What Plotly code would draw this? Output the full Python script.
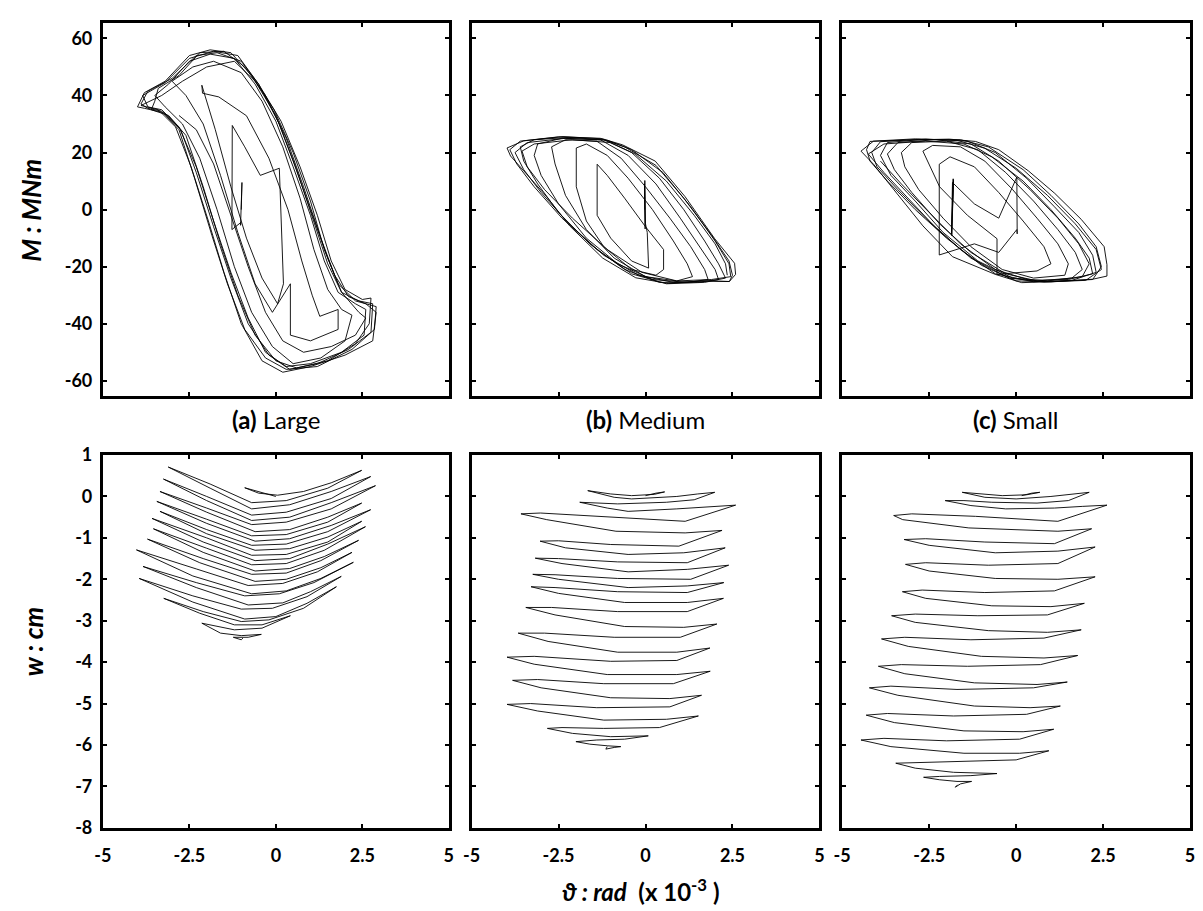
import plotly.graph_objects as go

# ---------------------------------------------------------------------------
# Moment (MNm) vs rotation (x 1e-3 rad) loops, one list of loops per foundation
# ---------------------------------------------------------------------------
large_moment_loops = [
    [(-1.00, 0.0), (-0.98, 9.5), (-1.02, -5.5), (-0.99, 9.0), (-1.01, -4.5)],
    [(-1.27, -7.0), (-1.26, 29.5), (-0.90, 22.0), (-0.45, 12.0), (0.10, 14.5), (0.22, -26.0),
     (0.05, -33.0), (-0.40, -24.0), (-0.85, -10.0), (-1.30, 8.0), (-1.75, 28.0), (-2.14, 43.6)],
    [(-2.12, 40.8), (-1.65, 39.5), (-0.85, 32.9), (-0.20, 18.0), (0.35, 0.0), (0.75, -18.0),
     (1.05, -30.0), (1.27, -37.4), (1.80, -35.0), (1.80, -42.0), (1.00, -46.0), (0.42, -44.0),
     (0.42, -26.0), (-0.10, -36.0), (-0.60, -26.0), (-1.10, -8.0), (-1.60, 12.0), (-2.10, 30.0),
     (-2.60, 40.0), (-3.00, 45.0)],
    [(-2.40, 50.0), (-1.80, 52.0), (-1.00, 48.0), (-0.40, 38.0), (0.20, 22.0), (0.70, 4.0),
     (1.10, -14.0), (1.50, -28.0), (1.90, -35.0), (2.20, -37.0), (2.00, -46.0), (1.30, -52.0),
     (0.50, -54.0), (-0.10, -48.0), (-0.70, -36.0), (-1.20, -20.0), (-1.70, 0.0), (-2.20, 18.0),
     (-2.70, 30.0), (-3.20, 36.0), (-3.50, 40.0)],
    [(-3.10, 44.0), (-2.50, 52.0), (-1.90, 54.5), (-1.20, 53.0), (-0.60, 44.0), (0.00, 31.0),
     (0.50, 15.0), (1.00, -2.0), (1.40, -18.0), (1.80, -29.0), (2.30, -33.0), (2.60, -35.0),
     (2.55, -44.0), (1.90, -50.0), (1.00, -54.0), (0.30, -55.0), (-0.30, -50.0), (-0.80, -38.0),
     (-1.30, -22.0), (-1.80, -4.0), (-2.30, 15.0), (-2.80, 29.0), (-3.30, 35.0), (-3.70, 36.0)],
    [(-3.85, 40.0), (-3.20, 44.5), (-2.50, 53.0), (-1.80, 55.5), (-1.10, 54.0), (-0.50, 44.0),
     (0.10, 30.0), (0.60, 14.0), (1.10, -4.0), (1.50, -19.0), (1.90, -29.0), (2.40, -32.0),
     (2.80, -33.0), (2.75, -43.0), (2.10, -49.0), (1.20, -54.0), (0.40, -56.0), (-0.20, -51.0),
     (-0.80, -40.0), (-1.30, -24.0), (-1.80, -6.0), (-2.30, 13.0), (-2.75, 28.0), (-3.25, 34.0),
     (-3.80, 35.5)],
    [(-4.00, 36.0), (-3.80, 41.0), (-3.20, 45.0), (-2.50, 54.0), (-1.90, 56.0), (-1.30, 55.0),
     (-0.70, 47.0), (-0.05, 35.0), (0.50, 20.0), (1.00, 3.0), (1.40, -14.0), (1.80, -26.0),
     (2.30, -32.0), (2.90, -34.0), (2.85, -42.0), (2.20, -49.0), (1.20, -55.0), (0.30, -56.0),
     (-0.30, -52.0), (-0.90, -42.0), (-1.40, -26.0), (-1.85, -9.0), (-2.35, 11.0), (-2.80, 28.0),
     (-3.30, 34.5), (-3.70, 35.5)],
    [(-3.90, 37.0), (-3.70, 41.5), (-3.00, 46.0), (-2.30, 54.0), (-1.70, 55.0), (-1.00, 52.0),
     (-0.50, 44.0), (0.15, 31.0), (0.70, 15.0), (1.20, -2.0), (1.60, -18.0), (2.00, -28.0),
     (2.50, -31.5), (2.75, -31.0), (2.70, -40.0), (2.30, -47.0), (1.50, -53.0), (0.60, -55.5),
     (0.00, -53.0), (-0.60, -44.0), (-1.10, -30.0), (-1.60, -12.0), (-2.10, 8.0), (-2.60, 26.0),
     (-3.10, 33.0), (-3.60, 35.0)],
    [(-3.50, 38.0), (-3.40, 42.5), (-2.80, 47.0), (-2.20, 55.0), (-1.50, 55.5), (-0.90, 50.0),
     (-0.30, 40.0), (0.30, 25.0), (0.80, 8.0), (1.30, -10.0), (1.70, -23.0), (2.10, -30.5),
     (2.60, -33.0), (2.90, -36.0), (2.80, -46.0), (2.00, -51.0), (1.00, -55.0), (0.20, -57.0),
     (-0.40, -53.0), (-1.00, -40.0), (-1.50, -22.0), (-1.95, -4.0), (-2.45, 15.0), (-2.90, 29.0),
     (-3.40, 35.0), (-3.90, 36.5)],
    [(-3.30, 40.0), (-2.70, 45.0), (-2.00, 50.0), (-1.20, 52.0), (-0.60, 45.0), (0.00, 33.0),
     (0.50, 17.0), (1.00, 0.0), (1.50, -17.0), (1.90, -29.0), (2.40, -36.0), (2.60, -38.0),
     (2.30, -44.0), (1.60, -48.0), (0.80, -50.0), (0.20, -46.0), (-0.30, -36.0), (-0.80, -20.0),
     (-1.30, -2.0), (-1.80, 16.0), (-2.30, 28.0), (-2.80, 33.0)],
]

medium_moment_loops = [
    [(-0.02, 0.0), (-0.02, 10.2), (-0.01, -6.8), (-0.03, 9.0), (0.00, -5.0)],
    [(0.05, -8.0), (0.09, -20.5), (-0.40, -18.0), (-1.00, -10.0), (-1.39, -2.0), (-1.39, 15.9),
     (-1.10, 12.0), (-0.60, 4.0), (0.00, -6.0), (0.52, -14.0), (0.52, -21.0)],
    [(0.30, -23.0), (-0.40, -21.0), (-1.20, -13.0), (-1.70, -4.0), (-1.99, 8.0), (-1.99, 21.6),
     (-1.70, 23.0), (-1.10, 19.0), (-0.50, 11.0), (0.20, 0.0), (0.80, -11.0), (1.20, -19.0),
     (1.35, -23.5)],
    [(0.90, -25.0), (0.00, -23.5), (-0.90, -17.0), (-1.70, -7.0), (-2.30, 5.0), (-2.60, 16.0),
     (-2.70, 22.0), (-2.30, 24.5), (-1.40, 24.0), (-0.70, 18.0), (0.00, 8.0), (0.70, -3.0),
     (1.30, -13.0), (1.70, -21.0), (1.80, -24.5)],
    [(1.20, -25.5), (0.20, -24.5), (-0.80, -19.0), (-1.70, -10.0), (-2.50, 2.0), (-3.00, 12.0),
     (-3.20, 19.0), (-3.10, 23.0), (-2.40, 25.0), (-1.30, 24.5), (-0.50, 19.0), (0.30, 9.0),
     (1.00, -3.0), (1.60, -14.0), (2.00, -21.0), (2.10, -24.5)],
    [(1.50, -25.5), (0.40, -25.5), (-0.60, -21.0), (-1.60, -12.0), (-2.50, -1.0), (-3.10, 9.0),
     (-3.50, 17.0), (-3.60, 22.0), (-3.20, 24.5), (-2.20, 25.3), (-1.20, 24.5), (-0.40, 20.0),
     (0.40, 11.0), (1.10, 0.0), (1.70, -11.0), (2.10, -19.0), (2.30, -24.0)],
    [(1.70, -25.5), (0.60, -26.0), (-0.40, -22.5), (-1.40, -14.0), (-2.40, -3.0), (-3.20, 8.0),
     (-3.70, 16.0), (-3.90, 21.0), (-3.60, 24.0), (-2.50, 25.5), (-1.30, 25.0), (-0.60, 22.0),
     (0.30, 15.5), (1.10, 4.0), (1.90, -9.0), (2.40, -18.0), (2.50, -23.0)],
    [(2.41, -25.2), (1.61, -25.0), (0.66, -25.9), (-0.28, -23.9), (-1.23, -17.0), (-2.18, -5.7),
     (-2.84, 4.5), (-3.50, 13.6), (-3.88, 18.8), (-3.98, 21.6), (-3.50, 24.1), (-2.37, 25.6),
     (-1.23, 24.8), (-0.66, 22.7), (0.28, 17.0), (1.14, 4.5), (1.99, -10.2), (2.56, -18.8),
     (2.59, -22.7), (2.41, -25.2)],
    [(1.80, -25.0), (0.80, -25.5), (-0.20, -23.0), (-1.20, -16.0), (-2.20, -5.0), (-3.00, 6.0),
     (-3.50, 14.0), (-3.75, 20.0), (-3.40, 23.5), (-2.30, 25.0), (-1.10, 24.3), (-0.40, 21.0),
     (0.50, 13.0), (1.30, 1.0), (2.00, -11.0), (2.40, -19.0), (2.45, -23.5)],
    [(1.90, -24.5), (0.90, -25.0), (-0.10, -22.0), (-1.10, -14.0), (-2.10, -3.0), (-2.90, 7.0),
     (-3.40, 15.0), (-3.55, 20.5), (-3.20, 23.0), (-2.10, 24.5), (-1.00, 23.5), (-0.30, 19.5),
     (0.60, 10.0), (1.40, -2.0), (2.00, -12.0), (2.30, -19.0), (2.35, -23.0)],
]

small_moment_loops = [
    [(-1.83, 0.0), (-1.81, 10.8), (-1.85, -9.1), (-1.80, 10.5), (-1.86, -8.5), (-1.83, 9.5),
     (-1.20, 2.0), (-0.50, -3.0), (0.02, 11.4), (0.03, -8.5), (0.01, 11.0), (0.02, -7.0)],
    [(-0.50, -15.0), (-1.20, -12.0), (-2.21, -15.9), (-2.21, 15.9), (-1.90, 18.5), (-1.20, 15.0),
     (-0.50, 6.0), (0.20, -4.0), (0.80, -13.0), (1.00, -19.0), (0.60, -21.5), (-0.55, -22.7),
     (-0.55, -10.2), (-1.40, -2.0), (-2.20, 8.0), (-2.68, 20.5)],
    [(-2.40, 22.5), (-1.60, 22.0), (-0.90, 17.0), (-0.10, 7.0), (0.60, -3.0), (1.20, -12.0),
     (1.50, -19.0), (1.40, -23.0), (0.50, -24.0), (-0.40, -21.0), (-1.30, -13.0), (-2.10, -3.0),
     (-2.80, 7.0), (-3.20, 15.0), (-3.30, 20.0)],
    [(-3.00, 23.5), (-2.00, 24.0), (-1.10, 21.0), (-0.30, 13.0), (0.50, 3.0), (1.20, -7.0),
     (1.70, -15.0), (1.90, -21.0), (1.60, -24.0), (0.60, -25.0), (-0.30, -22.5), (-1.30, -15.0),
     (-2.20, -5.0), (-3.00, 6.0), (-3.50, 14.0), (-3.70, 19.5)],
    [(-3.40, 23.5), (-2.30, 24.5), (-1.30, 23.0), (-0.50, 17.0), (0.40, 7.0), (1.20, -3.0),
     (1.80, -12.0), (2.10, -19.0), (1.90, -23.5), (0.90, -25.0), (-0.10, -24.0), (-1.10, -18.0),
     (-2.10, -8.0), (-2.90, 3.0), (-3.60, 12.0), (-3.90, 19.0)],
    [(-3.70, 23.5), (-2.60, 24.7), (-1.40, 24.0), (-0.60, 20.0), (0.30, 11.0), (1.10, 1.0),
     (1.80, -8.0), (2.20, -16.0), (2.30, -22.0), (1.60, -24.8), (0.50, -25.3), (-0.60, -22.5),
     (-1.60, -14.0), (-2.60, -3.0), (-3.40, 7.0), (-4.00, 15.0), (-4.15, 20.0)],
    [(-3.90, 23.8), (-2.80, 24.6), (-1.60, 24.5), (-0.80, 22.0), (0.20, 14.0), (1.00, 5.0),
     (1.80, -5.0), (2.30, -13.0), (2.45, -20.0), (2.20, -24.5), (1.00, -25.3), (0.00, -25.0),
     (-1.00, -19.5), (-2.00, -10.0), (-2.90, 0.0), (-3.70, 10.0), (-4.20, 17.0), (-4.30, 21.0)],
    [(-4.20, 23.9), (-3.16, 24.4), (-1.92, 24.7), (-1.17, 23.9), (-0.50, 21.0), (0.35, 13.6),
     (1.11, 5.7), (1.87, -3.4), (2.53, -13.0), (2.61, -19.3), (2.61, -23.3), (2.20, -24.4),
     (1.11, -25.2), (0.16, -25.6), (-0.60, -22.7), (-1.83, -16.5), (-2.68, -5.7), (-3.44, 5.7),
     (-4.10, 15.9), (-4.46, 20.5)],
    [(-4.10, 24.0), (-2.90, 24.8), (-1.70, 24.3), (-0.90, 21.5), (0.00, 14.5), (0.90, 5.0),
     (1.70, -5.0), (2.30, -14.0), (2.45, -21.0), (2.00, -24.8), (0.80, -25.4), (-0.20, -24.0),
     (-1.30, -17.0), (-2.30, -6.5), (-3.10, 4.0), (-3.80, 13.0), (-4.25, 19.5)],
    [(-3.80, 23.0), (-2.60, 24.0), (-1.50, 23.0), (-0.70, 18.5), (0.20, 10.0), (1.00, 0.0),
     (1.70, -10.0), (2.10, -17.0), (2.20, -22.5), (1.50, -24.5), (0.40, -24.8), (-0.60, -21.0),
     (-1.60, -12.0), (-2.50, -1.0), (-3.30, 9.0), (-3.90, 17.0)],
]

# ---------------------------------------------------------------------------
# Settlement w (cm) vs rotation paths (x 1e-3 rad)
# ---------------------------------------------------------------------------
large_settlement = [
    (0.00, 0.00), (-0.55, 0.12), (-0.90, 0.21), (-0.50, 0.08), (0.05, 0.03), (0.80, 0.12),
    (1.60, 0.33), (2.48, 0.63),
    (1.50, 0.20), (0.30, -0.10), (-0.70, -0.15), (-1.90, 0.30), (-3.11, 0.71),
    (-1.90, 0.20), (-0.70, -0.30), (0.40, -0.20), (1.60, 0.12), (2.74, 0.48),
    (1.60, -0.05), (0.30, -0.38), (-0.70, -0.45), (-2.00, 0.00), (-3.25, 0.42),
    (-2.00, -0.10), (-0.70, -0.58), (0.40, -0.50), (1.60, -0.15), (2.88, 0.26),
    (1.60, -0.30), (0.30, -0.62), (-0.70, -0.68), (-2.00, -0.28), (-3.35, 0.12),
    (-2.00, -0.38), (-0.60, -0.85), (0.40, -0.80), (1.50, -0.50), (2.48, -0.16),
    (1.50, -0.62), (0.30, -0.92), (-0.70, -0.95), (-2.00, -0.55), (-3.44, -0.12),
    (-2.00, -0.65), (-0.60, -1.08), (0.40, -1.02), (1.60, -0.70), (2.74, -0.32),
    (1.50, -0.85), (0.30, -1.15), (-0.70, -1.18), (-2.00, -0.80), (-3.35, -0.36),
    (-2.00, -0.90), (-0.60, -1.30), (0.40, -1.26), (1.50, -0.98), (2.48, -0.60),
    (1.50, -1.10), (0.30, -1.40), (-0.70, -1.42), (-2.00, -1.00), (-3.58, -0.53),
    (-2.10, -1.10), (-0.60, -1.55), (0.40, -1.50), (1.50, -1.15), (2.59, -0.73),
    (1.40, -1.30), (0.30, -1.62), (-0.70, -1.65), (-2.00, -1.25), (-3.54, -0.78),
    (-2.10, -1.35), (-0.60, -1.80), (0.40, -1.74), (1.40, -1.45), (2.39, -1.06),
    (1.30, -1.55), (0.30, -1.85), (-0.70, -1.88), (-2.10, -1.50), (-3.71, -1.03),
    (-2.20, -1.60), (-0.60, -2.05), (0.30, -2.00), (1.30, -1.72), (2.20, -1.35),
    (1.20, -1.82), (0.20, -2.10), (-0.80, -2.15), (-2.30, -1.75), (-4.03, -1.29),
    (-2.40, -1.92), (-0.70, -2.35), (0.30, -2.28), (1.30, -1.98), (2.24, -1.59),
    (1.10, -2.08), (0.10, -2.35), (-0.90, -2.40), (-2.30, -2.08), (-3.84, -1.69),
    (-2.30, -2.20), (-0.80, -2.62), (0.20, -2.57), (1.00, -2.30), (1.89, -1.93),
    (0.90, -2.42), (-0.10, -2.70), (-1.00, -2.72), (-2.40, -2.40), (-3.95, -1.98),
    (-2.40, -2.55), (-0.90, -2.96), (0.00, -2.90), (0.90, -2.58), (1.75, -2.18),
    (0.80, -2.70), (-0.20, -2.98), (-1.00, -3.02), (-2.10, -2.78), (-3.24, -2.46),
    (-2.20, -2.82), (-1.20, -3.10), (-0.40, -3.10), (0.42, -2.88),
    (-0.40, -3.18), (-1.20, -3.22), (-2.14, -3.06),
    (-1.60, -3.30), (-1.00, -3.36), (-0.42, -3.33),
    (-0.80, -3.40), (-1.23, -3.40), (-1.00, -3.46), (-0.95, -3.42),
]

medium_settlement = [
    (0.00, 0.02), (0.30, 0.08), (0.55, 0.11), (0.25, 0.05), (-0.40, 0.02), (-1.00, 0.06),
    (-1.66, 0.14),
    (-0.90, -0.02), (-0.40, -0.06), (0.90, 0.00), (1.50, 0.06), (1.99, 0.10),
    (1.40, -0.08), (0.60, -0.14), (-0.80, -0.18), (-1.40, -0.15), (-1.89, -0.14),
    (-1.10, -0.28), (-0.50, -0.36), (0.90, -0.30), (1.70, -0.26), (2.59, -0.21),
    (1.14, -0.60), (-1.23, -0.49), (-3.02, -0.40), (-3.58, -0.42),
    (-2.84, -0.56), (-0.85, -0.84), (1.14, -0.88), (2.20, -0.82),
    (0.96, -1.20), (-1.00, -1.16), (-2.50, -1.07), (-3.03, -1.08),
    (-2.30, -1.24), (-0.50, -1.40), (1.10, -1.36), (2.29, -1.24),
    (1.20, -1.60), (-0.80, -1.58), (-2.50, -1.50), (-3.17, -1.49),
    (-2.40, -1.62), (-0.50, -1.82), (1.20, -1.76), (2.39, -1.66),
    (1.30, -2.00), (-0.80, -1.98), (-2.60, -1.89), (-3.24, -1.88),
    (-2.50, -2.00), (-0.50, -2.20), (1.20, -2.16), (2.25, -2.08),
    (1.20, -2.32), (-0.80, -2.30), (-2.60, -2.20), (-3.29, -2.18),
    (-2.50, -2.34), (-0.60, -2.56), (1.20, -2.56), (2.24, -2.46),
    (1.20, -2.78), (-0.80, -2.78), (-2.70, -2.68), (-3.44, -2.68),
    (-2.60, -2.86), (-0.60, -3.14), (1.10, -3.16), (2.05, -3.08),
    (1.00, -3.40), (-0.90, -3.40), (-2.90, -3.30), (-3.66, -3.30),
    (-2.80, -3.50), (-0.80, -3.76), (0.90, -3.76), (1.85, -3.66),
    (0.90, -3.96), (-1.00, -3.98), (-3.20, -3.86), (-3.98, -3.88),
    (-3.20, -4.05), (-1.10, -4.30), (0.90, -4.30), (1.86, -4.22),
    (0.80, -4.52), (-1.20, -4.52), (-3.10, -4.42), (-3.82, -4.44),
    (-3.00, -4.62), (-1.00, -4.86), (0.70, -4.88), (1.61, -4.80),
    (0.70, -5.08), (-1.40, -5.10), (-3.30, -5.00), (-3.98, -5.02),
    (-3.10, -5.18), (-1.20, -5.40), (0.60, -5.38), (1.52, -5.30),
    (0.40, -5.58), (-1.20, -5.60), (-2.40, -5.58), (-2.82, -5.60),
    (-2.10, -5.72), (-1.00, -5.80), (0.08, -5.78),
    (-0.60, -5.86), (-1.40, -5.88), (-2.00, -5.92),
    (-1.60, -5.98), (-1.10, -6.02), (-0.71, -6.04),
    (-0.90, -6.06), (-1.14, -6.10), (-1.10, -6.04),
]

small_settlement = [
    (0.16, 0.02), (0.45, 0.08), (0.68, 0.10), (0.30, 0.04), (-0.40, 0.02), (-1.00, 0.06),
    (-1.55, 0.10),
    (-0.90, -0.02), (0.00, -0.06), (1.00, 0.00), (1.60, 0.06), (2.10, 0.10),
    (1.50, -0.10), (0.60, -0.16), (-0.70, -0.14), (-1.50, -0.10), (-2.04, -0.10),
    (-1.30, -0.22), (-0.30, -0.30), (1.10, -0.28), (1.90, -0.24), (2.61, -0.21),
    (1.20, -0.60), (-1.17, -0.48), (-3.00, -0.42), (-3.52, -0.46),
    (-3.26, -0.56), (-1.36, -0.76), (1.20, -0.84), (2.17, -0.78),
    (1.10, -1.14), (-0.90, -1.10), (-2.60, -1.02), (-3.22, -1.04),
    (-2.50, -1.18), (-0.60, -1.36), (1.20, -1.32), (2.27, -1.22),
    (1.20, -1.62), (-0.80, -1.66), (-2.60, -1.60), (-3.18, -1.64),
    (-2.50, -1.80), (-0.60, -1.98), (1.20, -2.00), (2.27, -1.94),
    (1.10, -2.28), (-0.90, -2.32), (-2.70, -2.26), (-3.27, -2.30),
    (-2.60, -2.46), (-0.70, -2.64), (1.00, -2.66), (1.96, -2.58),
    (0.90, -2.86), (-1.10, -2.88), (-2.90, -2.84), (-3.58, -2.88),
    (-2.90, -3.04), (-0.80, -3.24), (0.90, -3.28), (1.87, -3.22),
    (0.80, -3.42), (-1.30, -3.46), (-3.20, -3.40), (-3.87, -3.44),
    (-3.10, -3.62), (-1.00, -3.86), (0.80, -3.90), (1.77, -3.84),
    (0.70, -4.06), (-1.40, -4.10), (-3.30, -4.06), (-3.96, -4.10),
    (-3.20, -4.28), (-1.20, -4.50), (0.60, -4.54), (1.47, -4.48),
    (0.50, -4.62), (-1.70, -4.66), (-3.60, -4.58), (-4.22, -4.62),
    (-3.40, -4.80), (-1.20, -5.06), (0.40, -5.10), (1.27, -5.06),
    (0.30, -5.26), (-1.80, -5.30), (-3.70, -5.24), (-4.31, -5.28),
    (-3.50, -5.46), (-1.50, -5.66), (0.20, -5.68), (1.08, -5.62),
    (0.10, -5.86), (-2.00, -5.90), (-3.80, -5.84), (-4.46, -5.88),
    (-3.60, -6.04), (-1.50, -6.20), (0.10, -6.20), (0.94, -6.14),
    (0.00, -6.36), (-1.80, -6.40), (-3.00, -6.42), (-3.46, -6.44),
    (-2.90, -6.56), (-1.80, -6.66), (-0.55, -6.69),
    (-1.30, -6.74), (-2.20, -6.76), (-2.66, -6.78),
    (-2.20, -6.84), (-1.70, -6.88), (-1.28, -6.88),
    (-1.60, -6.94), (-1.75, -7.02), (-1.68, -6.96),
]

panel_labels = [("(a)", "Large"), ("(b)", "Medium"), ("(c)", "Small")]
theta_ticks = [-5, -2.5, 0, 2.5, 5]
theta_tick_text = ["-5", "-2.5", "0", "2.5", "5"]
moment_ticks = [-60, -40, -20, 0, 20, 40, 60]
settlement_ticks = [-8, -7, -6, -5, -4, -3, -2, -1, 0, 1]

# ---------------------------------------------------------------------------
W, H = 1203, 911
FONT = "Lato, 'Open Sans', sans-serif"
col_px = [(95, 445), (468, 820), (843, 1195)]
row_px = [(11, 394), (454, 836)]


def xdom(c):
    return [col_px[c][0] / W, col_px[c][1] / W]


def ydom(r):
    return [1 - row_px[r][1] / H, 1 - row_px[r][0] / H]


def bold_labels(values):
    return [f"<b>{v}</b>" for v in values]


def flatten(loops):
    pts = [p for loop in loops for p in loop]
    return [p[0] for p in pts], [p[1] for p in pts]


fig = go.Figure()
line_style = dict(color="black", width=0.9)

top_sets = [large_moment_loops, medium_moment_loops, small_moment_loops]
bottom_sets = [large_settlement, medium_settlement, small_settlement]

for c in range(3):
    tx, ty = flatten(top_sets[c])
    fig.add_trace(go.Scatter(x=tx, y=ty, mode="lines", line=line_style,
                             xaxis=f"x{c + 1}" if c else "x",
                             yaxis=f"y{c + 1}" if c else "y",
                             hoverinfo="skip", showlegend=False))
    bx = [p[0] for p in bottom_sets[c]]
    by = [p[1] for p in bottom_sets[c]]
    fig.add_trace(go.Scatter(x=bx, y=by, mode="lines", line=line_style,
                             xaxis=f"x{c + 4}", yaxis=f"y{c + 4}",
                             hoverinfo="skip", showlegend=False))

tickfont = dict(family=FONT, size=18, color="black", weight="bold")
axis_common = dict(showline=True, linewidth=3, linecolor="black", mirror="ticks",
                   ticks="inside", ticklen=4, tickwidth=2, tickcolor="black",
                   showgrid=False, zeroline=False, tickfont=tickfont)

layout = {}
for r in range(2):
    for c in range(3):
        idx = r * 3 + c + 1
        xname = "xaxis" if idx == 1 else f"xaxis{idx}"
        yname = "yaxis" if idx == 1 else f"yaxis{idx}"
        anchor_x = "x" if idx == 1 else f"x{idx}"
        anchor_y = "y" if idx == 1 else f"y{idx}"
        layout[xname] = dict(axis_common, domain=xdom(c), anchor=anchor_y,
                             range=[-5, 5], tickvals=theta_ticks,
                             ticktext=bold_labels(theta_tick_text),
                             showticklabels=(r == 1), ticklabelstandoff=10)
        if r == 0:
            layout[yname] = dict(axis_common, domain=ydom(r), anchor=anchor_x,
                                 range=[-65.5, 65.5], tickvals=moment_ticks,
                                 ticktext=bold_labels(moment_ticks),
                                 showticklabels=(c == 0), ticklabelstandoff=4)
        else:
            layout[yname] = dict(axis_common, domain=ydom(r), anchor=anchor_x,
                                 range=[-8, 1], tickvals=settlement_ticks,
                                 ticktext=bold_labels(settlement_ticks),
                                 showticklabels=(c == 0), ticklabelstandoff=4)

annotations = []
for c, (tag, name) in enumerate(panel_labels):
    cx = (col_px[c][0] + col_px[c][1]) / 2 / W
    annotations.append(dict(x=cx, y=1 - 418 / H, xref="paper", yref="paper",
                            text=f"<b>{tag}</b> {name}", showarrow=False,
                            font=dict(family=FONT, size=24, color="black"),
                            xanchor="center", yanchor="middle"))

annotations.append(dict(x=22 / W, y=1 - 203 / H, xref="paper", yref="paper",
                        text="<b><i>M : MNm</i></b>", textangle=-90, showarrow=False,
                        font=dict(family=FONT, size=26, color="black"),
                        xanchor="center", yanchor="middle"))
annotations.append(dict(x=25 / W, y=1 - 645 / H, xref="paper", yref="paper",
                        text="<b><i>w : cm</i></b>", textangle=-90, showarrow=False,
                        font=dict(family=FONT, size=26, color="black"),
                        xanchor="center", yanchor="middle"))
annotations.append(dict(x=557 / W, y=1 - 900 / H, xref="paper", yref="paper",
                        text="<b><i>ϑ : rad</i>  (x 10<sup>-3</sup> )</b>", showarrow=False,
                        font=dict(family=FONT, size=24, color="black"),
                        xanchor="left", yanchor="middle"))

fig.update_layout(width=W, height=H, margin=dict(l=0, r=0, t=0, b=0),
                  paper_bgcolor="white", plot_bgcolor="white",
                  annotations=annotations, showlegend=False, **layout)

fig.write_html("out.html")
